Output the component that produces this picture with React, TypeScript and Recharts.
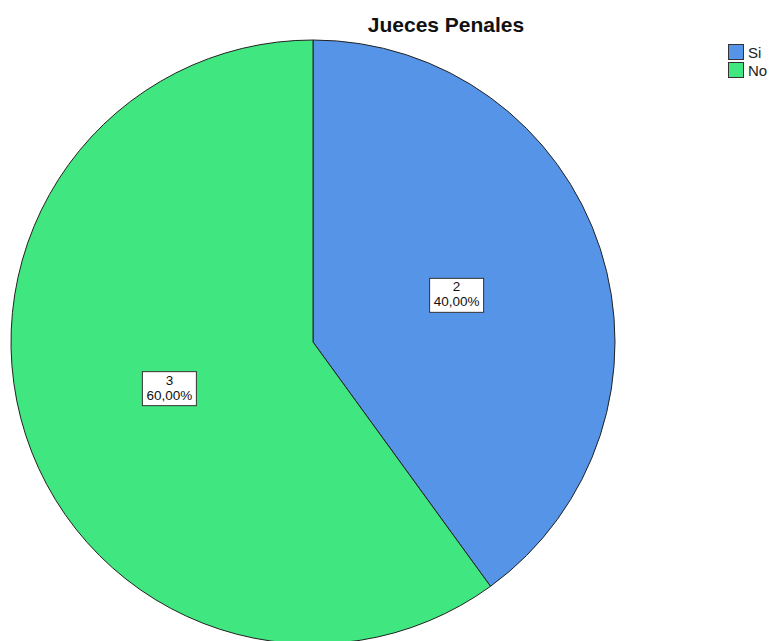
import React from "react";
import { PieChart, Pie, Cell, Legend } from "recharts";

const categories = ["Si", "No"];
const counts = [2, 3];
const percentLabels = ["40,00%", "60,00%"];
const colors = ["#5594e6", "#40e67f"];

const data = categories.map((name, i) => ({
  name,
  value: counts[i],
  pct: percentLabels[i],
}));

const FONT = "'Liberation Sans', Arial, sans-serif";
const RADIAN = Math.PI / 180;

const renderLabel = (props: any) => {
  const { cx, cy, midAngle, outerRadius, index } = props;
  const r = outerRadius * 0.5;
  const x = cx + r * Math.cos(-midAngle * RADIAN);
  const y = cy + r * Math.sin(-midAngle * RADIAN);
  const w = 54;
  const h = 34;
  return (
    <g>
      <rect
        x={x - w / 2}
        y={y - h / 2}
        width={w}
        height={h}
        fill="#ffffff"
        stroke="#333333"
        strokeWidth={1}
      />
      <text
        x={x}
        y={y - 4}
        textAnchor="middle"
        fontFamily={FONT}
        fontSize={13.5}
        fill="#111"
      >
        {data[index].value}
      </text>
      <text
        x={x}
        y={y + 11}
        textAnchor="middle"
        fontFamily={FONT}
        fontSize={13.5}
        fill="#111"
      >
        {data[index].pct}
      </text>
    </g>
  );
};

const LegendContent = () => (
  <div style={{ fontFamily: FONT, fontSize: 15, color: "#222" }}>
    {data.map((d, i) => (
      <div
        key={d.name}
        style={{ display: "flex", alignItems: "center", height: 18 }}
      >
        <span
          style={{
            display: "inline-block",
            width: 14,
            height: 14,
            background: colors[i],
            border: "1px solid #333",
            marginRight: 4,
          }}
        />
        <span>{d.name}</span>
      </div>
    ))}
  </div>
);

export default function App() {
  return (
    <div
      style={{
        position: "absolute",
        left: 0,
        top: 0,
        width: 773,
        height: 641,
        background: "#fff",
        overflow: "hidden",
      }}
    >
      <div
        style={{
          position: "absolute",
          top: 12,
          left: 446,
          transform: "translateX(-50%)",
          fontFamily: FONT,
          fontWeight: "bold",
          fontSize: 21,
          lineHeight: "26px",
          color: "#111",
          whiteSpace: "nowrap",
        }}
      >
        Jueces Penales
      </div>
      <PieChart width={773} height={641} margin={{ top: 0, right: 0, bottom: 0, left: 0 }}>
        <Pie
          data={data}
          dataKey="value"
          nameKey="name"
          cx={313}
          cy={342}
          outerRadius={302}
          startAngle={90}
          endAngle={-270}
          stroke="#222"
          strokeWidth={1}
          label={renderLabel}
          labelLine={false}
          isAnimationActive={false}
        >
          {data.map((d, i) => (
            <Cell key={d.name} fill={colors[i]} />
          ))}
        </Pie>
        <Legend
          layout="vertical"
          verticalAlign="top"
          align="right"
          content={<LegendContent />}
          wrapperStyle={{ top: 43, left: 728, width: 45 }}
        />
      </PieChart>
    </div>
  );
}
